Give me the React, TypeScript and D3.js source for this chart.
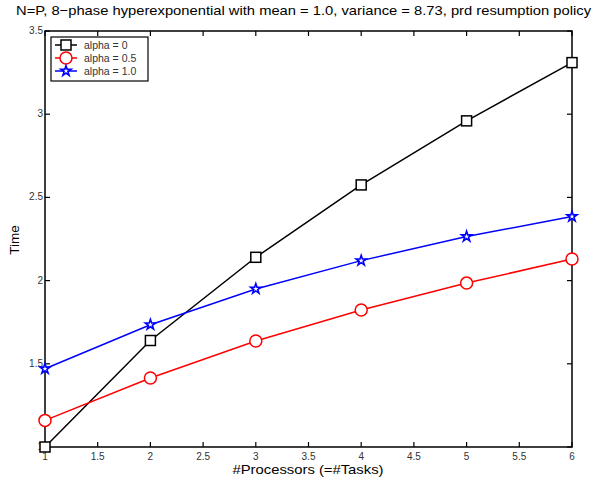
import React from "react";
import * as d3 from "d3";

const processors = [1, 2, 3, 4, 5, 6];
const alpha0 = [1.0, 1.64, 2.14, 2.575, 2.96, 3.31];
const alpha05 = [1.16, 1.415, 1.637, 1.823, 1.985, 2.13];
const alpha10 = [1.47, 1.735, 1.95, 2.12, 2.265, 2.385];
const xTicks = [1, 1.5, 2, 2.5, 3, 3.5, 4, 4.5, 5, 5.5, 6];
const yTicks = [1, 1.5, 2, 2.5, 3, 3.5];
const seriesNames = ["alpha = 0", "alpha = 0.5", "alpha = 1.0"];
const colors = ["#000000", "#ff0000", "#0000ff"];
const markers = ["square", "circle", "star"];

const W = 602, H = 480;
const L = 45, R = 572, T = 31, B = 447;

function Marker({ type, x, y, color }: { type: string; x: number; y: number; color: string }) {
  if (type === "square") return <rect x={x - 5} y={y - 5} width={10} height={10} fill="white" stroke={color} strokeWidth={1.5} />;
  if (type === "circle") return <circle cx={x} cy={y} r={6} fill="white" stroke={color} strokeWidth={1.5} />;
  const p = d3.symbol().type(d3.symbolStar).size(32)();
  return <path d={p || ""} transform={`translate(${x},${y})`} fill="white" stroke={color} strokeWidth={1.6} />;
}

export default function App() {
  const x = d3.scaleLinear().domain([1, 6]).range([L, R]);
  const y = d3.scaleLinear().domain([1, 3.5]).range([B, T]);
  const series = [alpha0, alpha05, alpha10];
  const line = d3.line<number>().x((_, i) => x(processors[i])).y((d) => y(d));
  const font = "Liberation Sans, Arial, sans-serif";
  return (
    <svg width={W} height={H} style={{ position: "absolute", left: 0, top: 0 }} fontFamily={font}>
      <rect width={W} height={H} fill="white" />
      <text x={16} y={15} fontSize={13} textLength={575} lengthAdjust="spacingAndGlyphs">
        N=P, 8−phase hyperexponential with mean = 1.0, variance = 8.73, prd resumption policy
      </text>
      <rect x={L} y={T} width={R - L} height={B - T} fill="none" stroke="black" strokeWidth={1.5} />
      {xTicks.map((t) => (
        <g key={"x" + t}>
          <line x1={x(t)} x2={x(t)} y1={B} y2={B - 5} stroke="black" strokeWidth={1.2} />
          <line x1={x(t)} x2={x(t)} y1={T} y2={T + 5} stroke="black" strokeWidth={1.2} />
          <text x={x(t)} y={B + 13} textAnchor="middle" fontSize={10} fill="#333">{t}</text>
        </g>
      ))}
      {yTicks.map((t) => (
        <g key={"y" + t}>
          <line x1={L} x2={L + 5} y1={y(t)} y2={y(t)} stroke="black" strokeWidth={1.2} />
          <line x1={R} x2={R - 5} y1={y(t)} y2={y(t)} stroke="black" strokeWidth={1.2} />
          <text x={L - 2} y={y(t) + 3} textAnchor="end" fontSize={10} fill="#333">{t}</text>
        </g>
      ))}
      <text transform={`translate(19,${(T + B) / 2 + 1}) rotate(-90)`} textAnchor="middle" fontSize={13.5}>Time</text>
      <text x={308} y={474} textAnchor="middle" fontSize={13} textLength={151} lengthAdjust="spacingAndGlyphs">#Processors (=#Tasks)</text>
      {series.map((s, i) => (
        <g key={"s" + i}>
          <path d={line(s) || ""} fill="none" stroke={colors[i]} strokeWidth={1.5} />
          {s.map((v, j) => (
            <Marker key={j} type={markers[i]} x={x(processors[j])} y={y(v)} color={colors[i]} />
          ))}
        </g>
      ))}
      <rect x={51} y={37} width={97} height={44} fill="white" stroke="black" strokeWidth={1.2} />
      {seriesNames.map((n, i) => {
        const ly = 45 + i * 13;
        return (
          <g key={"l" + i}>
            <line x1={55} x2={77} y1={ly} y2={ly} stroke={colors[i]} strokeWidth={1.5} />
            <Marker type={markers[i]} x={66} y={ly} color={colors[i]} />
            <text x={84} y={ly + 4} fontSize={10.5} fill="#333">{n}</text>
          </g>
        );
      })}
    </svg>
  );
}
